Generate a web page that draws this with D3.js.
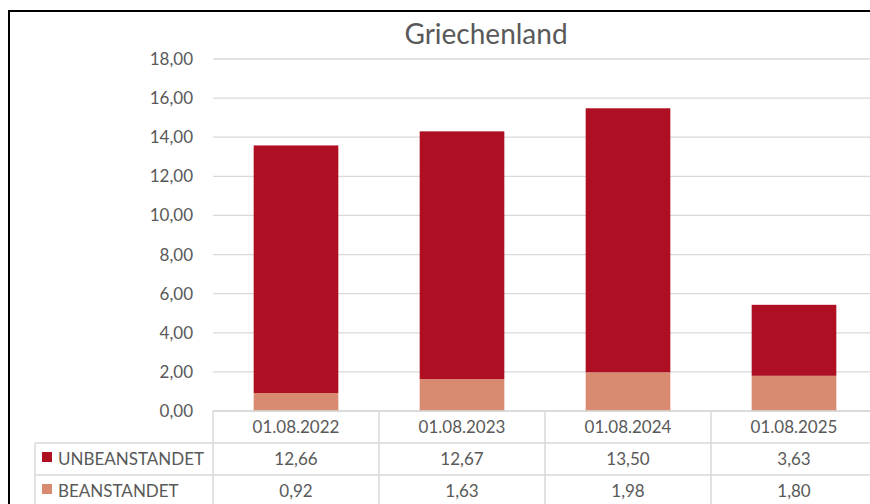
<!DOCTYPE html>
<html>
<head>
<meta charset="utf-8">
<script src="https://cdn.jsdelivr.net/npm/d3@7"></script>
<style>
  body { margin: 0; background: #ffffff; }
  svg { display: block; font-family: Lato, "Open Sans", sans-serif; }
</style>
</head>
<body>
<div class="fondo"></div>
<script>
var fechas = ["01.08.2022", "01.08.2023", "01.08.2024", "01.08.2025"];
var unbeanstandet = [12.66, 12.67, 13.50, 3.63];
var beanstandet = [0.92, 1.63, 1.98, 1.80];
var serien = ["UNBEANSTANDET", "BEANSTANDET"];
var farben = ["#ae0f22", "#d98b72"];
var ticks = [0, 2, 4, 6, 8, 10, 12, 14, 16, 18];

var contenedor = d3.select('.fondo')
  .append('svg')
  .attr('width', 870)
  .attr('height', 504);

// rahmen
contenedor.append('path')
  .attr('d', 'M9,520 L9,11 L880,11')
  .attr('fill', 'none')
  .attr('stroke', '#000')
  .attr('stroke-width', 2);

contenedor.append('text')
  .attr('x', 486)
  .attr('y', 44)
  .attr('text-anchor', 'middle')
  .attr('font-size', 28)
  .attr('fill', '#595959')
  .text('Griechenland');

var formato = function (v) { return d3.format('.2f')(v).replace('.', ','); };

const xScale = d3.scaleBand()
  .domain(fechas)
  .range([213, 877])
  .paddingInner(0.49)
  .paddingOuter(0.245);

const yScale = d3.scaleLinear()
  .domain([0, 18])
  .range([411, 59]);

// gitter
contenedor.append('g')
  .selectAll('line')
  .data(ticks)
  .enter()
  .append('line')
  .attr('x1', 213)
  .attr('x2', 877)
  .attr('y1', d => yScale(d))
  .attr('y2', d => yScale(d))
  .attr('stroke', '#d9d9d9')
  .attr('stroke-width', 1.3);

const yAxis = d3.axisLeft(yScale).tickValues(ticks).tickFormat(formato).tickSize(0).tickPadding(20);

contenedor.append('g')
  .attr('transform', 'translate(213,0)')
  .call(yAxis)
  .call(g => g.select('.domain').remove())
  .call(g => g.selectAll('text').attr('font-size', 17).attr('fill', '#595959').attr('font-family', 'Lato, sans-serif'));

// balken
var stapel = fechas.map(function (f, i) {
  return { fecha: f, unten: beanstandet[i], oben: unbeanstandet[i] };
});

contenedor.append('g')
  .selectAll('rect')
  .data(stapel)
  .enter()
  .append('rect')
  .attr('x', d => xScale(d.fecha))
  .attr('width', xScale.bandwidth())
  .attr('y', d => yScale(d.unten))
  .attr('height', d => yScale(0) - yScale(d.unten))
  .attr('fill', farben[1]);

contenedor.append('g')
  .selectAll('rect')
  .data(stapel)
  .enter()
  .append('rect')
  .attr('x', d => xScale(d.fecha))
  .attr('width', xScale.bandwidth())
  .attr('y', d => yScale(d.unten + d.oben))
  .attr('height', d => yScale(d.unten) - yScale(d.unten + d.oben))
  .attr('fill', farben[0]);

// datentabelle
var filaAlto = 32;
var tabla = contenedor.append('g').attr('stroke', '#d9d9d9').attr('stroke-width', 1.5);
var paso = xScale.step();
var colX = fechas.map(function (f) { return xScale(f) - xScale.step() * xScale.paddingInner() / 2; });

tabla.append('line').attr('x1', 213).attr('x2', 877).attr('y1', 411).attr('y2', 411);
[1, 2, 3].forEach(function (r) {
  tabla.append('line').attr('x1', 35).attr('x2', 877)
    .attr('y1', 411 + r * filaAlto).attr('y2', 411 + r * filaAlto);
});
colX.concat([colX[3] + paso]).forEach(function (x) {
  tabla.append('line').attr('x1', x).attr('x2', x).attr('y1', 411).attr('y2', 520);
});
tabla.append('line').attr('x1', 35).attr('x2', 35).attr('y1', 443).attr('y2', 520);

contenedor.append('g')
  .selectAll('text')
  .data(fechas)
  .enter()
  .append('text')
  .attr('x', d => xScale(d) + xScale.bandwidth() / 2)
  .attr('y', 411 + filaAlto / 2 + 6)
  .attr('text-anchor', 'middle')
  .attr('font-size', 17)
  .attr('fill', '#595959')
  .text(d => d);

[unbeanstandet, beanstandet].forEach(function (serie, r) {
  var yFila = 411 + (r + 1) * filaAlto + filaAlto / 2 + 6;
  contenedor.append('rect')
    .attr('x', 42).attr('y', yFila - 13)
    .attr('width', 10).attr('height', 10)
    .attr('fill', farben[r]);
  contenedor.append('text')
    .attr('x', 58).attr('y', yFila)
    .attr('font-size', 17)
    .attr('fill', '#595959')
    .text(serien[r]);
  contenedor.append('g')
    .selectAll('text')
    .data(serie)
    .enter()
    .append('text')
    .attr('x', (d, i) => xScale(fechas[i]) + xScale.bandwidth() / 2)
    .attr('y', yFila)
    .attr('text-anchor', 'middle')
    .attr('font-size', 17)
    .attr('fill', '#595959')
    .text(d => formato(d));
});
</script>
</body>
</html>
